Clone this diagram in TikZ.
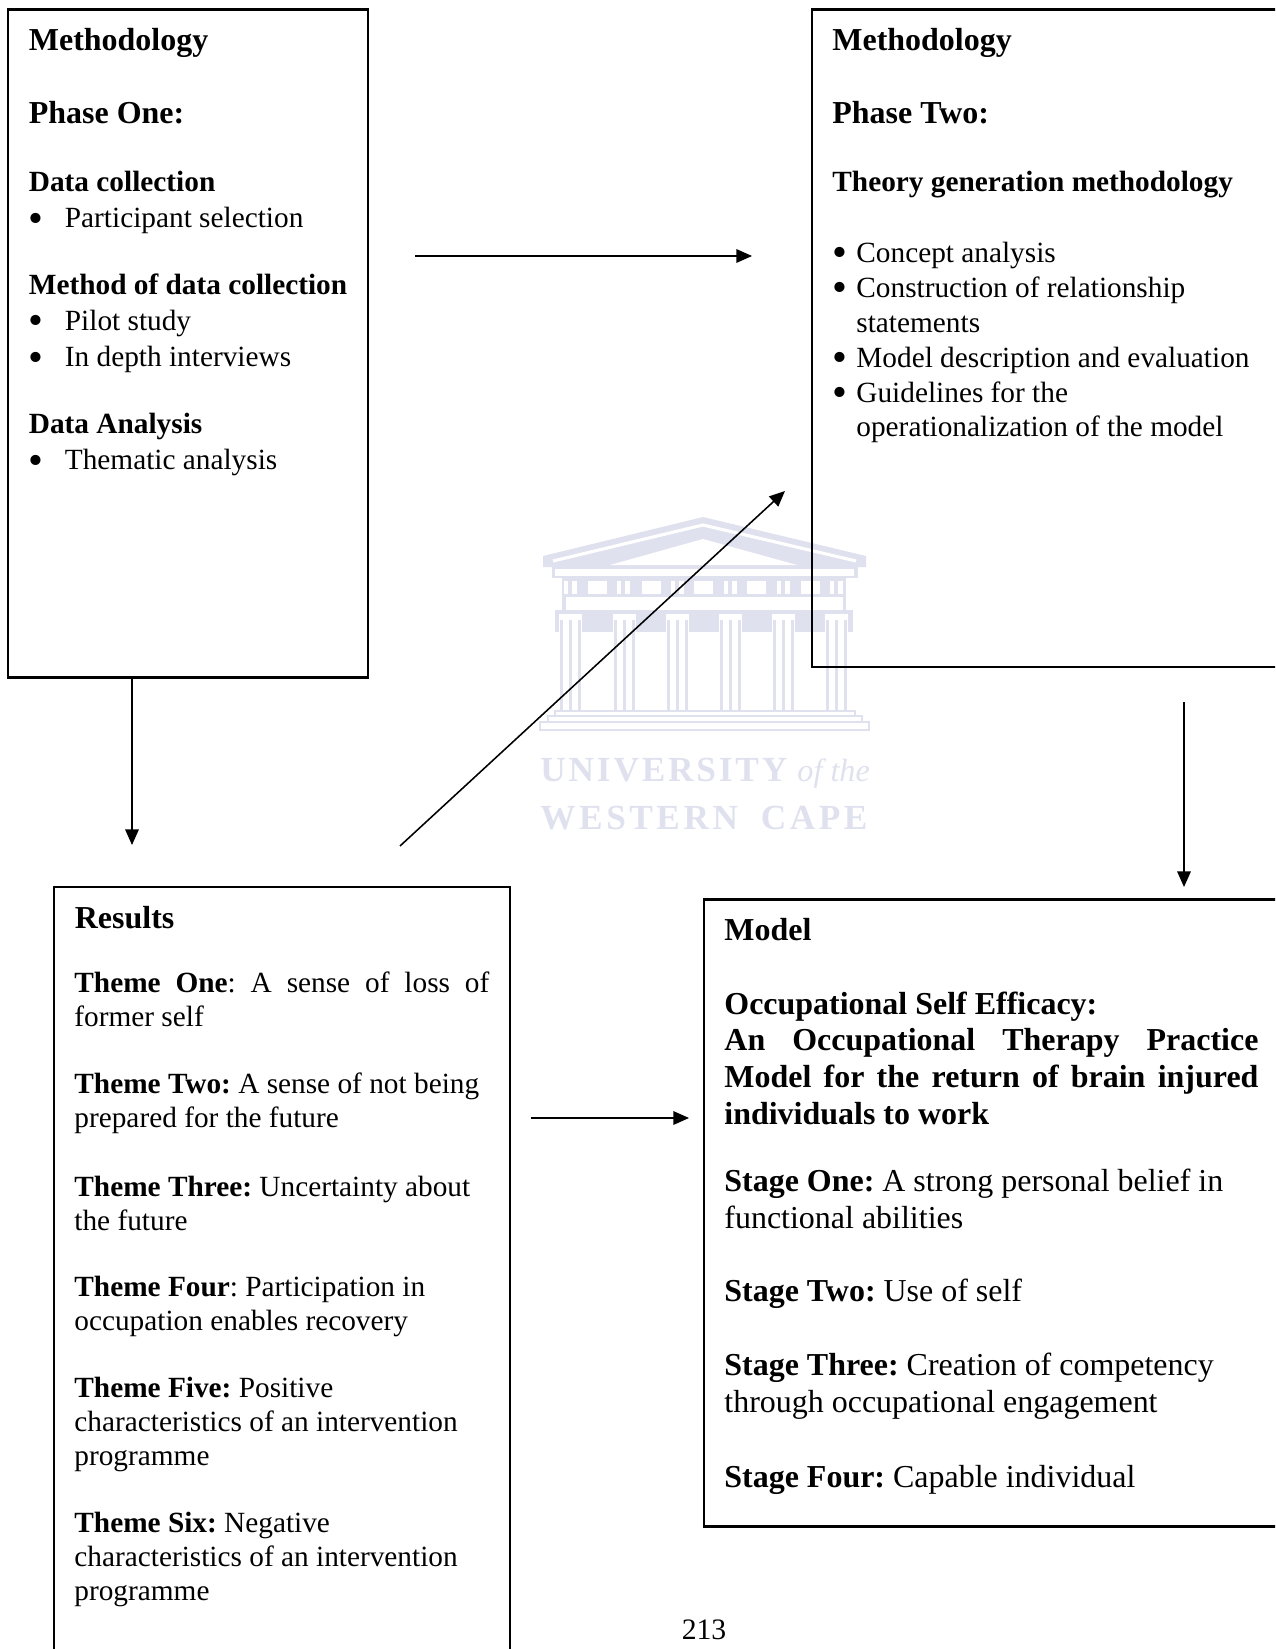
\documentclass[tikz,border=0pt]{standalone}
\usepackage{fontspec}
\setmainfont{Liberation Serif}
\usetikzlibrary{arrows.meta}

\newlength{\pxu}
\setlength{\pxu}{0.4818pt}
\frenchspacing
\definecolor{crest}{HTML}{DFE1EE}
\newcommand{\blt}[1]{\makebox[#1\pxu][l]{\raisebox{-0.14em}{\scalebox{1.45}{\textbullet}}}}
\newcommand{\jline}[2]{\makebox[#1\pxu][s]{#2}}

\tikzset{
    boxnode/.style={draw, line width=1pt, anchor=north west, inner sep=0pt, outer sep=0pt},
    headtext/.style={anchor=base west, inner sep=0pt, font=\fontsize{15.4}{17}\selectfont\bfseries},
    bodytext/.style={anchor=base west, inner sep=0pt, align=left, font=\fontsize{14.12}{17.5}\selectfont},
    themetext/.style={anchor=base west, inner sep=0pt, align=left, font=\fontsize{14.12}{16.3}\selectfont},
    stagetext/.style={anchor=base west, inner sep=0pt, align=left, font=\fontsize{15.4}{17.6}\selectfont},
    crestbit/.style={fill=crest, draw=none},
    cresthole/.style={fill=white, draw=none},
    cresttext/.style={anchor=base west, inner sep=0pt, text=crest},
    flow/.style={->, >={Triangle[length=7.5pt,width=6.5pt]}, line width=0.75pt}
}

\begin{document}
\begin{tikzpicture}[x=\pxu, y=-\pxu]
    \path[use as bounding box, clip] (0,0) rectangle (1275,1649);

    % crest behind everything
    \fill[crestbit] (543,556) -- (703,517) -- (866,556) -- (866,567) -- (543,567) -- cycle;
    \draw[white, line width=1.5pt] (553,561) -- (703,525) -- (856,561);
    \fill[cresthole] (610,565) -- (703,539) -- (797,565) -- cycle;
    \fill[crestbit] (552,567) rectangle (858,578);
    \fill[cresthole] (555,569) rectangle (854,576);
    \fill[crestbit] (562,578) rectangle (846,597);
    \foreach \mx in {588,642,694,747,801}
        \fill[cresthole] (\mx,581) rectangle ++(19,13);
    \foreach \gx in {564,617,671,724,777,830} {
        \fill[cresthole] (\gx,581) rectangle ++(4,13);
        \fill[cresthole] (\gx+8,581) rectangle ++(5,13);
    }
    \fill[crestbit] (562,597) rectangle (566,610);
    \fill[crestbit] (843,597) rectangle (846,610);
    \fill[crestbit] (555,610) rectangle (853,632);
    \foreach \cx in {559,613,666,719,772,825} {
        \fill[cresthole] (\cx,614) rectangle ++(23,4);
        \fill[cresthole] (\cx,618) rectangle ++(23,92);
        \fill[crestbit] (\cx+1,620) rectangle ++(3,90);
        \fill[crestbit] (\cx+10,620) rectangle ++(3,90);
        \fill[crestbit] (\cx+19,620) rectangle ++(3,90);
    }
    \draw[crest, line width=1.3pt] (555,711) rectangle (855,716);
    \draw[crest, line width=1.3pt] (548,716) rectangle (862,722);
    \draw[crest, line width=1.3pt] (540,722) rectangle (869,730);
    \node[cresttext, font=\fontsize{17}{19}\selectfont\bfseries\addfontfeature{LetterSpace=8}] (uni) at (540,781) {UNIVERSITY};
    \node[cresttext, font=\fontsize{15.5}{18}\selectfont\itshape] (ofthe) at (797,781) {of the};
    \node[cresttext, font=\fontsize{17}{19}\selectfont\bfseries\addfontfeature{LetterSpace=10}] (cape) at (540,829) {WESTERN\hspace{5pt} CAPE};

    % the four boxes, two of them run off the page
    \node[boxnode, minimum width=360*\pxu, minimum height=668*\pxu] (phaseone) at (8,9.5) {};
    \node[boxnode, minimum width=600*\pxu, minimum height=657.5*\pxu] (phasetwo) at (812,9.5) {};
    \node[boxnode, minimum width=456*\pxu, minimum height=900*\pxu] (results) at (54,887) {};
    \node[boxnode, minimum width=700*\pxu, minimum height=627*\pxu] (model) at (704,899.5) {};

    % phase one
    \node[headtext] (methA) at (28.5,51) {Methodology};
    \node[headtext] (phA) at (28.5,124) {Phase One:};
    \node[bodytext] (collect) at (28.5,228) {\textbf{Data collection}\\ \blt{36}Participant selection};
    \node[bodytext] (method) at (28.5,367) {\textbf{Method of data collection}\\ \blt{36}Pilot study\\ \blt{36}In depth interviews};
    \node[bodytext] (analysis) at (28.5,470) {\textbf{Data Analysis}\\ \blt{36}Thematic analysis};

    % phase two
    \node[headtext] (methB) at (832,51) {Methodology};
    \node[headtext] (phB) at (832,124) {Phase Two:};
    \node[bodytext, font=\fontsize{14.12}{17.5}\selectfont\bfseries] (theory) at (832,192) {Theory generation methodology};
    \node[bodytext, font=\fontsize{14.12}{16.8}\selectfont] (steps) at (832,437) {\blt{24}Concept analysis\\ \blt{24}Construction of relationship\\ \hspace*{24\pxu}statements\\ \blt{24}Model description and evaluation\\ \blt{24}Guidelines for the\\ \hspace*{24\pxu}operationalization of the model};

    % results
    \node[headtext] (res) at (74.5,928) {Results};
    \node[themetext] (thA) at (74,1026) {\jline{415}{\textbf{Theme One}: A sense of loss of}\\ former self};
    \node[themetext] (thB) at (74,1127) {\textbf{Theme Two:} A sense of not being\\ prepared for the future};
    \node[themetext] (thC) at (74,1230) {\textbf{Theme Three:} Uncertainty about\\ the future};
    \node[themetext] (thD) at (74,1330) {\textbf{Theme Four}: Participation in\\ occupation enables recovery};
    \node[themetext] (thE) at (74,1465.5) {\textbf{Theme Five:} Positive\\ characteristics of an intervention\\ programme};
    \node[themetext] (thF) at (74,1600.5) {\textbf{Theme Six:} Negative\\ characteristics of an intervention\\ programme};

    % model
    \node[headtext] (mod) at (724,940) {Model};
    \node[stagetext, font=\fontsize{15.4}{17.6}\selectfont\bfseries] (title) at (724,1124) {Occupational Self Efficacy:\\ \jline{534}{An Occupational Therapy Practice}\\ \jline{534}{Model for the return of brain injured}\\ individuals to work};
    \node[stagetext] (stA) at (724,1228) {\textbf{Stage One:} A strong personal belief in\\ functional abilities};
    \node[stagetext] (stB) at (724,1301) {\textbf{Stage Two:} Use of self};
    \node[stagetext] (stC) at (724,1412) {\textbf{Stage Three:} Creation of competency\\ through occupational engagement};
    \node[stagetext] (stD) at (724,1487) {\textbf{Stage Four:} Capable individual};

    \node[anchor=base, inner sep=0pt, font=\fontsize{14.3}{16}\selectfont] (pageno) at (704,1639) {213};

    % free ends of the arrows
    \coordinate (oneout) at (415,256);
    \coordinate (twoin) at (752,256);
    \coordinate (onedown) at (132,677.5);
    \coordinate (resin) at (132,845);
    \coordinate (resout) at (400,846);
    \coordinate (twodiag) at (785,491);
    \coordinate (twodown) at (1184,702);
    \coordinate (modin) at (1184,887);
    \coordinate (resright) at (531,1118);
    \coordinate (modleft) at (689,1118);

    \draw[flow] (oneout) -- (twoin);
    \draw[flow] (onedown) -- (resin);
    \draw[flow] (resout) -- (twodiag);
    \draw[flow] (twodown) -- (modin);
    \draw[flow] (resright) -- (modleft);
\end{tikzpicture}
\end{document}
